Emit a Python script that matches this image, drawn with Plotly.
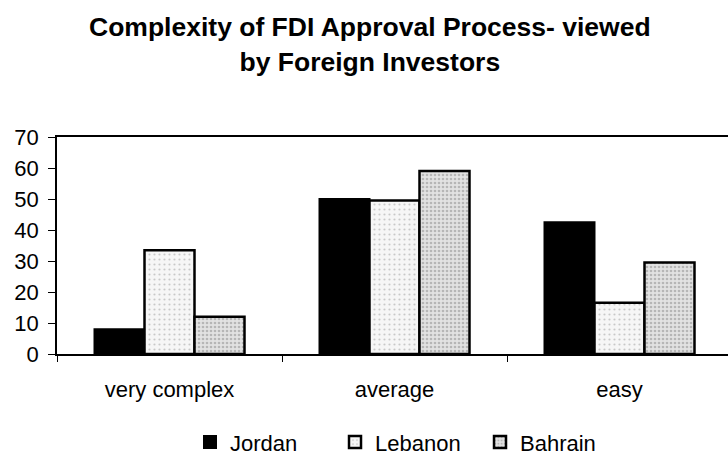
import plotly.graph_objects as go

categories = ["very complex", "average", "easy"]
jordan = [8, 50, 42.5]
lebanon = [33.5, 49.5, 16.5]
bahrain = [12, 59, 29.5]
y_ticks = [0, 10, 20, 30, 40, 50, 60, 70]

FONT = "Liberation Sans, Arial, sans-serif"

fig = go.Figure()
fig.add_trace(go.Bar(
    name="Jordan", x=categories, y=jordan,
    marker=dict(color="black", line=dict(color="black", width=2)),
))
fig.add_trace(go.Bar(
    name="Lebanon", x=categories, y=lebanon,
    marker=dict(color="#f4f4f4", line=dict(color="black", width=2.5),
                pattern=dict(shape=".", fgcolor="#9a9a9a", bgcolor="#f6f6f6",
                             size=5, solidity=0.15)),
))
fig.add_trace(go.Bar(
    name="Bahrain", x=categories, y=bahrain,
    marker=dict(color="#d8d8d8", line=dict(color="black", width=2.5),
                pattern=dict(shape=".", fgcolor="#8a8a8a", bgcolor="#e2e2e2",
                             size=4, solidity=0.35)),
))

fig.update_layout(
    width=728, height=455,
    paper_bgcolor="white", plot_bgcolor="white",
    margin=dict(l=57, r=0, t=137, b=101),
    barmode="group", bargap=1/3, bargroupgap=0,
    font=dict(family=FONT, size=22, color="black"),
    title=dict(
        text="<b>Complexity of FDI Approval Process- viewed<br>by Foreign Investors</b>",
        x=0.508, xanchor="center", y=0.92, yanchor="middle",
        font=dict(family=FONT, size=26.5, color="black"),
    ),
    showlegend=True,
    legend=dict(
        orientation="h", xref="container", yref="container",
        x=0.261, xanchor="left", y=0.028, yanchor="middle",
        font=dict(family=FONT, size=22),
        entrywidth=100, traceorder="normal",
    ),
    xaxis=dict(
        type="category", range=[-0.5, -0.5 + 671/225],
        showline=True, linecolor="black", linewidth=1.5,
        mirror=True,
        ticks="outside", tickson="boundaries", ticklen=6, tickcolor="black",
        tickfont=dict(family=FONT, size=22),
        ticklabelstandoff=15,
        showgrid=False, zeroline=False,
    ),
    yaxis=dict(
        range=[0, 70], tickvals=y_ticks,
        showline=True, linecolor="black", linewidth=1.5,
        ticks="outside", ticklen=7, tickcolor="black",
        tickfont=dict(family=FONT, size=22),
        ticklabelstandoff=5,
        showgrid=False, zeroline=False,
    ),
)

fig.write_html("out.html", config={"displayModeBar": False},
               post_script="document.body.style.margin='0';")
